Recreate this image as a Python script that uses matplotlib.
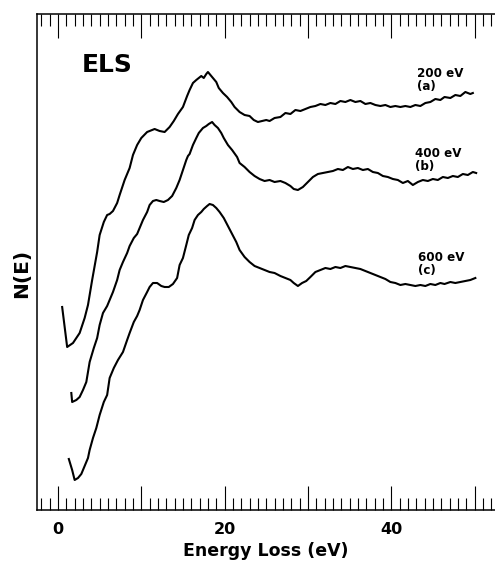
import matplotlib
matplotlib.use("Agg")
import matplotlib.pyplot as plt
from matplotlib.ticker import FixedLocator, MultipleLocator, FuncFormatter

# energy loss spectra, N(E) in arbitrary units
e_200 = [0.5, 1.1, 1.8, 2.6, 3.2, 3.6, 4.1, 4.7, 5.0, 5.5, 5.9, 6.2, 6.6, 7.1, 7.4, 8.0,
         8.6, 9.0, 9.5, 10.0, 10.7, 11.0, 11.6, 12.2, 12.8, 13.4, 13.9, 14.4, 15.0, 15.5,
         15.8, 16.2, 16.6, 16.9, 17.2, 17.5, 17.8, 18.0, 18.2, 18.6, 19.0, 19.3, 19.8, 20.3,
         20.8, 21.2, 21.8, 22.4, 23.0, 23.5, 24.0, 24.5, 25.0, 25.4, 26.0, 26.7, 27.3, 27.9,
         28.5, 29.1, 29.7, 30.3, 30.9, 31.5, 32.1, 32.7, 33.3, 33.9, 34.5, 35.1, 35.7, 36.3,
         36.9, 37.5, 38.1, 38.7, 39.3, 39.9, 40.5, 41.1, 41.7, 42.3, 42.9, 43.5, 44.1, 44.7,
         45.3, 45.9, 46.4, 47.1, 47.7, 48.3, 48.9, 49.5, 49.8]
n_200 = [203, 163, 167, 177, 192, 205, 230, 258, 275, 288, 295, 296, 299, 307, 315, 330,
         342, 355, 365, 372, 378, 379, 381, 379, 378, 383, 389, 396, 403, 414,
         420, 427, 430, 432, 434, 432, 436, 438, 436, 432, 428, 422, 417, 413,
         408, 403, 398, 395, 394, 390, 388, 389, 390, 389, 392, 393, 397, 396,
         400, 399, 401, 403, 404, 406, 405, 407, 406, 409, 408, 410, 408, 409,
         406, 407, 405, 404, 405, 403, 404, 403, 404, 403, 405, 404, 407, 408,
         411, 410, 413, 412, 415, 414, 418, 416, 417]

e_400 = [1.6, 1.7, 2.2, 2.6, 3.0, 3.4, 3.8, 4.3, 4.7, 5.0, 5.4, 5.9, 6.2, 6.6, 7.1, 7.4,
         7.8, 8.3, 8.6, 9.1, 9.5, 9.8, 10.2, 10.7, 11.0, 11.4, 11.8, 12.2, 12.7, 13.2, 13.7,
         14.2, 14.6, 15.0, 15.4, 15.6, 15.8, 16.2, 16.6, 16.9, 17.4, 17.8, 18.1, 18.5, 18.8,
         19.2, 19.6, 19.9, 20.4, 20.9, 21.5, 21.8, 22.4, 23.0, 23.6, 24.2, 24.8, 25.4, 26.0,
         26.7, 27.3, 27.9, 28.3, 28.8, 29.4, 30.0, 30.6, 31.2, 31.8, 32.4, 33.0, 33.6, 34.2,
         34.8, 35.4, 36.0, 36.6, 37.2, 37.8, 38.4, 39.0, 39.6, 40.2, 40.8, 41.4, 42.0, 42.6,
         43.2, 43.8, 44.4, 45.0, 45.6, 46.2, 46.8, 47.4, 48.0, 48.6, 49.2, 49.8, 50.2]
n_400 = [117, 108, 110, 113, 120, 128, 148, 162, 172, 185, 197, 204, 210, 218, 230, 240,
         248, 257, 264, 272, 276, 282, 290, 298, 305, 309, 310, 309, 308, 310, 314,
         322, 330, 340, 350, 354, 356, 365, 372, 377, 382, 384, 386, 388, 385,
         382, 377, 372, 365, 360, 353, 347, 343, 338, 334, 331, 329, 330, 328,
         329, 327, 324, 321, 320, 323, 328, 333, 336, 337, 338, 339, 341, 340,
         343, 341, 342, 340, 341, 338, 337, 334, 333, 331, 330, 327, 329, 325,
         328, 330, 329, 331, 330, 333, 332, 334, 333, 336, 335, 338, 337]

e_600 = [1.3, 1.7, 2.0, 2.4, 2.8, 3.2, 3.6, 3.8, 4.2, 4.6, 5.0, 5.5, 5.9, 6.2, 6.7, 7.2,
         7.8, 8.3, 8.6, 9.1, 9.5, 9.8, 10.2, 10.7, 11.0, 11.4, 11.9, 12.4, 12.8, 13.3, 13.8,
         14.3, 14.6, 15.0, 15.4, 15.7, 16.1, 16.4, 16.8, 17.2, 17.5, 17.9, 18.2, 18.6, 19.0,
         19.4, 19.9, 20.4, 20.9, 21.4, 21.8, 22.4, 23.0, 23.6, 24.2, 24.8, 25.4, 26.0, 26.7,
         27.3, 27.9, 28.3, 28.8, 29.3, 29.8, 30.3, 30.9, 31.5, 32.1, 32.7, 33.3, 33.9, 34.5,
         35.1, 35.7, 36.3, 36.9, 37.5, 38.1, 38.7, 39.3, 39.9, 40.5, 41.1, 41.7, 42.3, 42.9,
         43.5, 44.1, 44.7, 45.3, 45.9, 46.4, 47.1, 47.7, 48.3, 48.9, 49.5, 50.1]
n_600 = [51, 40, 30, 32, 36, 44, 52, 60, 72, 82, 95, 108, 115, 132, 142, 150,
         158, 170, 177, 188, 194, 200, 210, 218, 223, 227, 227, 224, 223, 223, 226,
         232, 245, 252, 265, 275, 282, 290, 295, 298, 301, 304, 306, 305, 302,
         298, 292, 284, 276, 268, 260, 253, 248, 244, 242, 240, 238, 237, 234,
         232, 230, 227, 224, 227, 229, 233, 238, 240, 242, 241, 243, 242, 244,
         243, 242, 241, 239, 237, 235, 233, 231, 228, 227, 225, 226, 225, 224,
         225, 224, 226, 225, 227, 226, 228, 227, 228, 229, 230, 232]

spectra = [
    (e_200, n_200, "200 eV\n(a)", (43.1, 443)),
    (e_400, n_400, "400 eV\n(b)", (42.9, 363)),
    (e_600, n_600, "600 eV\n(c)", (43.2, 259)),
]
label_ticks = [0, 20, 40]

plt.rcParams["font.family"] = "DejaVu Sans"
plt.rcParams["font.weight"] = "bold"

fig = plt.figure(figsize=(4.95, 5.61), dpi=100)
ax = fig.add_axes([37 / 495, 51 / 561, 458 / 495, 496 / 561])

for e, n, lab, pos in spectra:
    ax.plot(e, n, color="black", lw=1.5)
    ax.text(pos[0], pos[1], lab, fontsize=8.6, fontweight="bold", ha="left", va="top",
            linespacing=1.0)

ax.text(2.9, 457, "ELS", fontsize=18, fontweight="bold", ha="left", va="top")

ax.set_xlim(-2.52, 52.46)
ax.set_ylim(0, 496)

ax.xaxis.set_major_locator(FixedLocator([0, 10, 20, 30, 40, 50]))
ax.xaxis.set_minor_locator(MultipleLocator(1))
ax.xaxis.set_major_formatter(FuncFormatter(lambda v, p: f"{v:.0f}" if round(v) in label_ticks else ""))
ax.tick_params(axis="x", which="both", direction="in", top=True, bottom=True, width=0.8,
               labelsize=11.5, pad=9)
ax.tick_params(axis="x", which="major", length=17.5)
ax.tick_params(axis="x", which="minor", length=8.5)
ax.set_yticks([])
for lbl in ax.get_xticklabels():
    lbl.set_fontweight("bold")

ax.spines["right"].set_visible(False)
for s in ["left", "top", "bottom"]:
    ax.spines[s].set_linewidth(1.1)

ax.set_xlabel("Energy Loss (eV)", fontsize=12.5, fontweight="bold")
ax.xaxis.set_label_coords(0.5, -0.064)
ax.set_ylabel("N(E)", fontsize=14.5, fontweight="bold")
ax.yaxis.set_label_coords(-0.012, 0.476)

fig.savefig("out.png", dpi=100)
